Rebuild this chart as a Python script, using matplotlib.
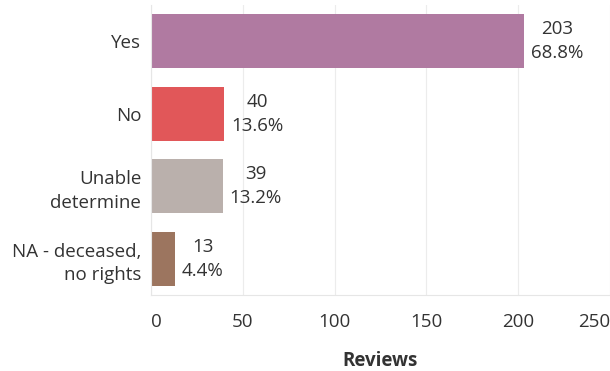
import matplotlib
matplotlib.use('Agg')
import matplotlib.pyplot as plt

categories = ['Yes', 'No', 'Unable\ndetermine', 'NA - deceased,\nno rights']
reviews = [203, 40, 39, 13]
percents = ['68.8%', '13.6%', '13.2%', '4.4%']
colors = ['#B07AA1', '#E15759', '#BAB0AC', '#9C755F']
xticks = [0, 50, 100, 150, 200, 250]

plt.rcParams['font.family'] = ['Open Sans', 'DejaVu Sans']
text_color = '#333333'
fs = 13.5

fig = plt.figure(figsize=(6.10, 3.71), dpi=100)
ax = fig.add_axes([151 / 610, 1 - 295 / 371, 459 / 610, (295 - 5) / 371])

ypos = list(range(len(categories)))
ax.barh(ypos, reviews, height=0.745, color=colors, zorder=2)

for y, v, p in zip(ypos, reviews, percents):
    ax.annotate(f'{v}\n{p}', xy=(v, y), xytext=(5, 0), textcoords='offset points',
                ha='left', va='center', multialignment='center',
                fontsize=fs, color=text_color, linespacing=1.4)

ax.set_xlim(0, 250)
ax.set_ylim(len(categories) - 0.5, -0.5)
ax.set_yticks(ypos)
ax.set_yticklabels(categories, fontsize=fs, color=text_color, linespacing=1.4)
ax.set_xticks(xticks)
ax.set_xticklabels([str(t) for t in xticks], fontsize=fs, color=text_color)
ax.get_xticklabels()[0].set_ha('left')
ax.get_xticklabels()[-1].set_ha('right')
ax.tick_params(axis='both', length=0)
ax.tick_params(axis='x', pad=13)
ax.tick_params(axis='y', pad=7)

ax.grid(axis='x', color='#ececec', linewidth=0.8, zorder=0)
for side in ['top', 'right']:
    ax.spines[side].set_visible(False)
ax.spines['left'].set_color('#e6e6e6')
ax.spines['bottom'].set_color('#e6e6e6')

ax.set_xlabel('Reviews', fontsize=fs, fontweight='bold', color=text_color, labelpad=14)

fig.savefig('out.png', dpi=100)
